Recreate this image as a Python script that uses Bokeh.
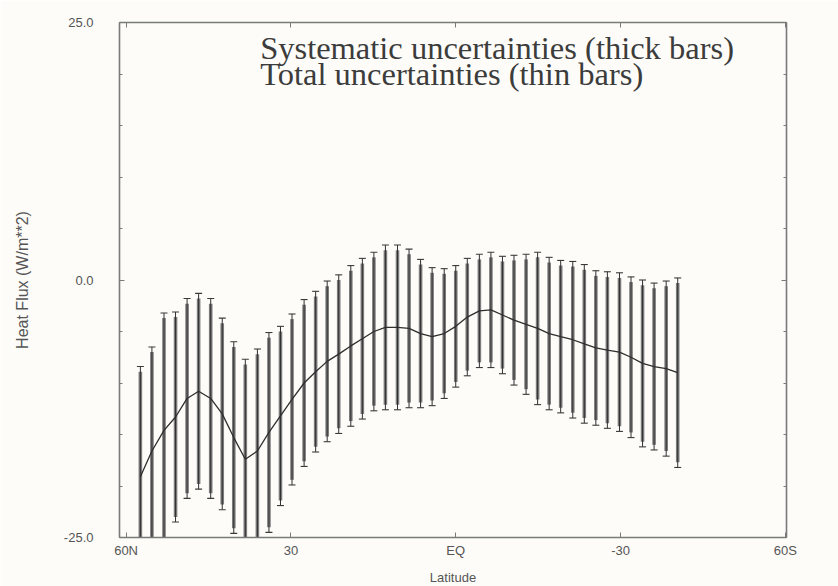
from bokeh.plotting import figure
from bokeh.models import Range1d, FixedTicker, LinearAxis, Label, ColumnDataSource, PrintfTickFormatter
from bokeh.embed import file_html
from bokeh.resources import INLINE

# Zonal-mean heat flux by latitude, with uncertainty bars
latitude = [57.4, 55.3, 53.1, 51.0, 48.9, 46.8, 44.6, 42.5, 40.4, 38.3, 36.1, 34.0,
            31.9, 29.8, 27.6, 25.5, 23.4, 21.3, 19.1, 17.0, 14.9, 12.8, 10.6, 8.5,
            6.4, 4.3, 2.1, 0.0, -2.1, -4.3, -6.4, -8.5, -10.6, -12.8, -14.9, -17.0,
            -19.1, -21.3, -23.4, -25.5, -27.6, -29.8, -31.9, -34.0, -36.1, -38.3, -40.4]
heat_flux = [-19.1, -16.6, -14.6, -13.3, -11.5, -10.8, -11.5, -13.0, -15.3, -17.4, -16.6, -14.8,
             -13.2, -11.6, -10.0, -8.9, -7.9, -7.2, -6.4, -5.7, -5.0, -4.6, -4.6, -4.7,
             -5.2, -5.5, -5.2, -4.5, -3.6, -3.0, -2.9, -3.4, -3.9, -4.3, -4.7, -5.2,
             -5.5, -5.8, -6.2, -6.6, -6.8, -7.0, -7.5, -8.1, -8.4, -8.6, -9.0]
total_err = [10.7, 10.1, 11.4, 10.2, 9.7, 9.5, 9.7, 9.3, 9.3, 9.7, 9.9, 9.7,
             8.7, 8.3, 8.1, 7.8, 7.8, 7.7, 7.8, 7.8, 7.7, 8.0, 8.0, 7.7,
             7.2, 6.7, 6.3, 5.9, 5.7, 5.5, 5.6, 5.7, 6.3, 6.8, 7.4, 7.4,
             7.4, 7.6, 7.7, 7.5, 7.6, 7.7, 7.8, 8.1, 8.1, 8.5, 9.2]
sys_err = [10.2, 9.6, 10.9, 9.7, 9.2, 9.0, 9.2, 8.8, 8.8, 9.2, 9.4, 9.2,
           8.2, 7.8, 7.6, 7.3, 7.3, 7.2, 7.3, 7.3, 7.2, 7.5, 7.5, 7.2,
           6.7, 6.2, 5.8, 5.4, 5.2, 5.0, 5.1, 5.2, 5.8, 6.3, 6.9, 6.9,
           6.9, 7.1, 7.2, 7.0, 7.1, 7.2, 7.3, 7.6, 7.6, 8.0, 8.7]

x_ticks = [60, 30, 0, -30, -60]
x_tick_labels = {60: "60N", 30: "30", 0: "EQ", -30: "-30", -60: "60S"}
y_ticks = [-25, 0, 25]
y_minor_ticks = [-20, -15, -10, -5, 5, 10, 15, 20]

src = ColumnDataSource(dict(
    lat=latitude,
    flux=heat_flux,
    tot_lo=[m - e for m, e in zip(heat_flux, total_err)],
    tot_hi=[m + e for m, e in zip(heat_flux, total_err)],
    sys_lo=[m - e for m, e in zip(heat_flux, sys_err)],
    sys_hi=[m + e for m, e in zip(heat_flux, sys_err)],
))

BG = "#fdfcf9"
AX = "#7a7a7a"
TXT = "#555555"
SANS = "Liberation Sans"

p = figure(width=838, height=586, frame_width=667, frame_height=515,
           x_range=Range1d(61.2, -60.2), y_range=Range1d(-25, 25),
           output_backend="svg", toolbar_location=None,
           background_fill_color=BG, border_fill_color=BG,
           min_border_left=119, min_border_right=52,
           min_border_top=22, min_border_bottom=49)
p.grid.visible = False
p.outline_line_color = "#a0a0a0"
p.outline_line_width = 1.2

# systematic (thick) and total (thin) uncertainty bars
p.segment(x0="lat", y0="sys_lo", x1="lat", y1="sys_hi", source=src,
          line_width=3.6, line_color="#7c7c7c")
p.segment(x0="lat", y0="tot_lo", x1="lat", y1="tot_hi", source=src,
          line_width=1.0, line_color="#303030")
p.scatter(x="lat", y="tot_hi", source=src, marker="dash", size=7,
          line_color="#3a3a3a", line_width=1.1)
p.scatter(x="lat", y="tot_lo", source=src, marker="dash", size=7,
          line_color="#3a3a3a", line_width=1.1)

# mean curve
p.line(x="lat", y="flux", source=src, line_width=1.3, line_color="#2e2e2e")


def style_axis(ax, show_labels=True):
    ax.axis_line_color = AX
    ax.axis_line_width = 1.5
    ax.major_tick_in = 5
    ax.major_tick_out = 0
    ax.minor_tick_in = 3
    ax.minor_tick_out = 0
    ax.major_tick_line_color = AX
    ax.minor_tick_line_color = AX
    ax.major_label_text_font = SANS
    ax.major_label_text_font_size = "13px"
    ax.major_label_text_color = TXT if show_labels else None
    ax.axis_label_text_font = SANS
    ax.axis_label_text_font_size = "13px"
    ax.axis_label_text_font_style = "normal"
    ax.axis_label_text_color = TXT


xt = FixedTicker(ticks=x_ticks)
yt = FixedTicker(ticks=y_ticks, minor_ticks=y_minor_ticks)

xa = p.xaxis[0]
xa.ticker = xt
xa.major_label_overrides = x_tick_labels
xa.axis_label = "Latitude"
style_axis(xa)
xa.major_label_standoff = 5
xa.axis_label_standoff = 9

ya = p.yaxis[0]
ya.ticker = yt
ya.formatter = PrintfTickFormatter(format="%.1f")
ya.axis_label = "Heat Flux (W/m**2)"
style_axis(ya)
ya.axis_label_text_font_size = "16px"
ya.major_label_standoff = 26
ya.axis_label_standoff = 30

top = LinearAxis(ticker=xt, major_label_standoff=0)
style_axis(top, show_labels=False)
p.add_layout(top, "above")
right = LinearAxis(ticker=yt, major_label_standoff=0)
style_axis(right, show_labels=False)
p.add_layout(right, "right")

for txt, yv in (("Systematic uncertainties (thick bars)", 24.3),
                ("Total uncertainties (thin bars)", 21.75)):
    p.add_layout(Label(x=35.6, y=yv, text=txt, text_font="Liberation Serif",
                       text_font_size="32.5px", text_color="#3c3c3c",
                       text_baseline="top"))

open("out.html", "w").write(file_html(p, INLINE))
